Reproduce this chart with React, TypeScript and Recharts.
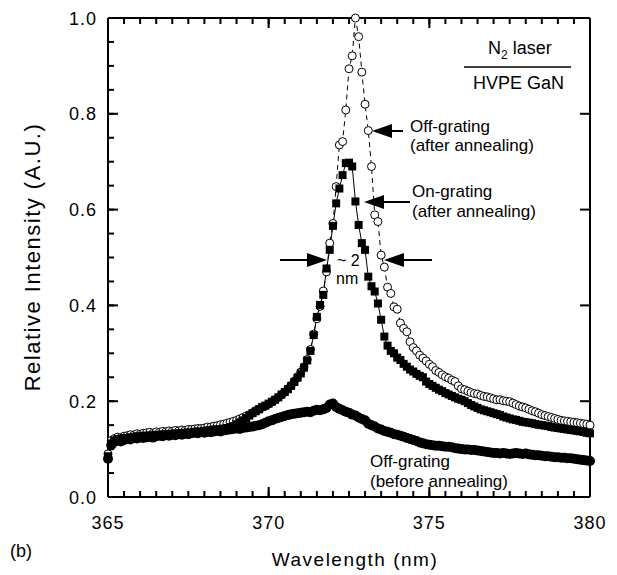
import { ComposedChart, Line, XAxis, YAxis, ReferenceLine } from 'recharts';

// wavelength grid (nm), 0.1 nm steps
const wavelength = [
  365.0, 365.1, 365.2, 365.3, 365.4, 365.5, 365.6, 365.7, 365.8, 365.9,
  366.0, 366.1, 366.2, 366.3, 366.4, 366.5, 366.6, 366.7, 366.8, 366.9,
  367.0, 367.1, 367.2, 367.3, 367.4, 367.5, 367.6, 367.7, 367.8, 367.9,
  368.0, 368.1, 368.2, 368.3, 368.4, 368.5, 368.6, 368.7, 368.8, 368.9,
  369.0, 369.1, 369.2, 369.3, 369.4, 369.5, 369.6, 369.7, 369.8, 369.9,
  370.0, 370.1, 370.2, 370.3, 370.4, 370.5, 370.6, 370.7, 370.8, 370.9,
  371.0, 371.1, 371.2, 371.3, 371.4, 371.5, 371.6, 371.7, 371.8, 371.9,
  372.0, 372.1, 372.2, 372.3, 372.4, 372.5, 372.6, 372.7, 372.8, 372.9,
  373.0, 373.1, 373.2, 373.3, 373.4, 373.5, 373.6, 373.7, 373.8, 373.9,
  374.0, 374.1, 374.2, 374.3, 374.4, 374.5, 374.6, 374.7, 374.8, 374.9,
  375.0, 375.1, 375.2, 375.3, 375.4, 375.5, 375.6, 375.7, 375.8, 375.9,
  376.0, 376.1, 376.2, 376.3, 376.4, 376.5, 376.6, 376.7, 376.8, 376.9,
  377.0, 377.1, 377.2, 377.3, 377.4, 377.5, 377.6, 377.7, 377.8, 377.9,
  378.0, 378.1, 378.2, 378.3, 378.4, 378.5, 378.6, 378.7, 378.8, 378.9,
  379.0, 379.1, 379.2, 379.3, 379.4, 379.5, 379.6, 379.7, 379.8, 379.9,
  380.0,
];

// Off-grating (before annealing) - filled circles
const offBefore = [
  0.080, 0.108, 0.115, 0.118, 0.116, 0.119, 0.121, 0.120, 0.123, 0.122,
  0.124, 0.123, 0.125, 0.126, 0.124, 0.127, 0.128, 0.127, 0.129, 0.128,
  0.130, 0.129, 0.131, 0.130, 0.132, 0.131, 0.133, 0.134, 0.133, 0.135,
  0.134, 0.136, 0.135, 0.137, 0.138, 0.137, 0.139, 0.140, 0.141, 0.142,
  0.143, 0.142, 0.144, 0.145, 0.146, 0.147, 0.149, 0.150, 0.152, 0.155,
  0.158, 0.160, 0.163, 0.165, 0.167, 0.169, 0.171, 0.173, 0.174, 0.175,
  0.176, 0.177, 0.178, 0.177, 0.180, 0.182, 0.181, 0.183, 0.186, 0.193,
  0.195, 0.188, 0.184, 0.181, 0.178, 0.176, 0.172, 0.170, 0.166, 0.163,
  0.160, 0.153, 0.150, 0.147, 0.143, 0.141, 0.138, 0.136, 0.134, 0.131,
  0.130, 0.128, 0.126, 0.123, 0.121, 0.119, 0.117, 0.114, 0.112, 0.110,
  0.109, 0.108, 0.107, 0.107, 0.106, 0.105, 0.105, 0.104, 0.102, 0.101,
  0.100, 0.099, 0.099, 0.098, 0.098, 0.097, 0.096, 0.095, 0.094, 0.093,
  0.092, 0.092, 0.091, 0.092, 0.091, 0.090, 0.091, 0.092, 0.091, 0.090,
  0.091, 0.089, 0.088, 0.087, 0.087, 0.086, 0.085, 0.085, 0.084, 0.083,
  0.083, 0.082, 0.082, 0.081, 0.081, 0.080, 0.079, 0.078, 0.077, 0.076,
  0.075,
];

// On-grating (after annealing) - filled squares
const onAfter = [
  0.085, 0.112, 0.118, 0.121, 0.119, 0.123, 0.122, 0.125, 0.124, 0.127,
  0.125, 0.128, 0.127, 0.129, 0.127, 0.130, 0.129, 0.131, 0.130, 0.132,
  0.131, 0.133, 0.132, 0.134, 0.133, 0.135, 0.134, 0.136, 0.137, 0.136,
  0.138, 0.139, 0.140, 0.141, 0.141, 0.142, 0.143, 0.144, 0.146, 0.148,
  0.152, 0.156, 0.160, 0.165, 0.170, 0.175, 0.179, 0.183, 0.188, 0.191,
  0.195, 0.199, 0.203, 0.208, 0.214, 0.219, 0.225, 0.232, 0.240, 0.249,
  0.258, 0.270, 0.285, 0.305, 0.338, 0.376, 0.401, 0.422, 0.477, 0.516,
  0.566, 0.613, 0.644, 0.672, 0.697, 0.698, 0.690, 0.617, 0.568, 0.530,
  0.516, 0.460, 0.440, 0.429, 0.404, 0.370, 0.335, 0.316, 0.305, 0.300,
  0.291, 0.286, 0.278, 0.272, 0.266, 0.262, 0.257, 0.253, 0.250, 0.241,
  0.236, 0.232, 0.228, 0.224, 0.221, 0.217, 0.214, 0.211, 0.208, 0.205,
  0.203, 0.200, 0.196, 0.192, 0.189, 0.186, 0.183, 0.181, 0.179, 0.177,
  0.175, 0.173, 0.171, 0.168, 0.166, 0.164, 0.162, 0.161, 0.159, 0.157,
  0.156, 0.155, 0.154, 0.152, 0.151, 0.150, 0.149, 0.148, 0.146, 0.145,
  0.144, 0.143, 0.142, 0.141, 0.140, 0.139, 0.138, 0.137, 0.136, 0.134,
  0.133,
];

// Off-grating (after annealing) - open circles
const offAfter = [
  0.090, 0.118, 0.122, 0.125, 0.124, 0.127, 0.128, 0.130, 0.129, 0.132,
  0.131, 0.133, 0.134, 0.135, 0.133, 0.136, 0.135, 0.137, 0.136, 0.138,
  0.137, 0.139, 0.138, 0.140, 0.139, 0.141, 0.141, 0.142, 0.143, 0.143,
  0.144, 0.146, 0.146, 0.148, 0.149, 0.151, 0.152, 0.154, 0.156, 0.158,
  0.160, 0.163, 0.166, 0.169, 0.172, 0.176, 0.180, 0.184, 0.187, 0.190,
  0.194, 0.198, 0.203, 0.208, 0.213, 0.219, 0.226, 0.233, 0.242, 0.251,
  0.261, 0.272, 0.287, 0.308, 0.340, 0.372, 0.398, 0.430, 0.470, 0.530,
  0.571, 0.648, 0.735, 0.742, 0.808, 0.894, 0.921, 1.000, 0.961, 0.887,
  0.820, 0.765, 0.690, 0.589, 0.575, 0.505, 0.480, 0.438, 0.425, 0.397,
  0.392, 0.363, 0.352, 0.345, 0.324, 0.312, 0.305, 0.296, 0.290, 0.284,
  0.277, 0.272, 0.264, 0.260, 0.255, 0.251, 0.248, 0.244, 0.241, 0.232,
  0.226, 0.224, 0.221, 0.218, 0.216, 0.215, 0.212, 0.210, 0.209, 0.207,
  0.205, 0.203, 0.203, 0.201, 0.200, 0.199, 0.196, 0.193, 0.190, 0.188,
  0.186, 0.183, 0.180, 0.178, 0.175, 0.172, 0.170, 0.168, 0.166, 0.164,
  0.162, 0.160, 0.159, 0.158, 0.157, 0.156, 0.155, 0.154, 0.153, 0.152,
  0.150,
];

const xTicks = [
  365, 365.5, 366, 366.5, 367, 367.5, 368, 368.5, 369, 369.5,
  370, 370.5, 371, 371.5, 372, 372.5, 373, 373.5, 374, 374.5,
  375, 375.5, 376, 376.5, 377, 377.5, 378, 378.5, 379, 379.5, 380,
];
const xMajor = [365, 370, 375, 380];
const yTicks = [
  0, 0.05, 0.1, 0.15, 0.2, 0.25, 0.3, 0.35, 0.4, 0.45, 0.5,
  0.55, 0.6, 0.65, 0.7, 0.75, 0.8, 0.85, 0.9, 0.95, 1.0,
];
const yMajor = [0, 0.2, 0.4, 0.6, 0.8, 1.0];

const data = wavelength.map((wl, i) => ({
  wl,
  before: offBefore[i],
  on: onAfter[i],
  off: offAfter[i],
}));

const FONT = '"Liberation Sans", Arial, Helvetica, sans-serif';
const isMajor = (list: number[], v: number) => list.some(m => Math.abs(m - v) < 1e-6);

// minor ticks come from the axes (negative tickSize = drawn inward);
// majors are lengthened with short reference segments (data units)
const MINOR = -6;
const X_MAJOR_LEN = 0.021; // y units, ~10 px
const Y_MAJOR_LEN = 0.31;  // nm, ~10 px

// tick label props arrive at the inner end of the tick line
const BottomTick = ({ x, y, payload }: any) => {
  if (!isMajor(xMajor, payload.value)) return <g />;
  return (
    <text x={x} y={y + 38} textAnchor="middle" fontSize={18} fontFamily={FONT} letterSpacing={1} fill="#000">
      {payload.value}
    </text>
  );
};

const LeftTick = ({ x, y, payload }: any) => {
  if (!isMajor(yMajor, payload.value)) return <g />;
  return (
    <text x={x - 17} y={y + 6.5} textAnchor="end" fontSize={18} fontFamily={FONT} letterSpacing={1} fill="#000">
      {payload.value.toFixed(1)}
    </text>
  );
};

const NoLabel = () => <g />;

const Arrow = ({ tail, tip, y }: { tail: number; tip: number; y: number }) => {
  const dir = tip > tail ? 1 : -1;
  const base = tip - dir * 20;
  return (
    <g>
      <line x1={tail} x2={base} y1={y} y2={y} stroke="#000" strokeWidth={2} />
      <polygon points={`${tip},${y} ${base},${y - 7} ${base},${y + 7}`} fill="#000" />
    </g>
  );
};

const axisStyle = {
  tickSize: MINOR,
  tickMargin: 0,
  tickLine: { stroke: '#000', strokeWidth: 2 },
  axisLine: { stroke: '#000', strokeWidth: 2 },
  interval: 0 as const,
};

export default function App() {
  const txt = { fontFamily: FONT, fontSize: 17, fill: '#000' };
  return (
    <div style={{ position: 'absolute', left: 0, top: 0, width: 617, height: 575, background: '#fff' }}>
      <ComposedChart width={617} height={575} data={data} margin={{ top: 17, right: 26, bottom: 38, left: 48 }}>
        <XAxis dataKey="wl" type="number" domain={[365, 380]} ticks={xTicks} height={40}
          tick={<BottomTick />} {...axisStyle} />
        <XAxis xAxisId="top" orientation="top" dataKey="wl" type="number" domain={[365, 380]} ticks={xTicks}
          height={1} tick={<NoLabel />} {...axisStyle} />
        <YAxis type="number" domain={[0, 1]} ticks={yTicks} width={60}
          tick={<LeftTick />} {...axisStyle} />
        <YAxis yAxisId="right" orientation="right" type="number" domain={[0, 1]} ticks={yTicks} width={1}
          tick={<NoLabel />} {...axisStyle} />

        {xMajor.map(v => (
          <ReferenceLine key={`xb${v}`} segment={[{ x: v, y: 0 }, { x: v, y: X_MAJOR_LEN }]} stroke="#000" strokeWidth={2} />
        ))}
        {xMajor.map(v => (
          <ReferenceLine key={`xt${v}`} segment={[{ x: v, y: 1 }, { x: v, y: 1 - X_MAJOR_LEN }]} stroke="#000" strokeWidth={2} />
        ))}
        {yMajor.map(v => (
          <ReferenceLine key={`yl${v}`} segment={[{ x: 365, y: v }, { x: 365 + Y_MAJOR_LEN, y: v }]} stroke="#000" strokeWidth={2} />
        ))}
        {yMajor.map(v => (
          <ReferenceLine key={`yr${v}`} segment={[{ x: 380, y: v }, { x: 380 - Y_MAJOR_LEN, y: v }]} stroke="#000" strokeWidth={2} />
        ))}

        <Line dataKey="before" type="linear" stroke="#000" strokeWidth={1} isAnimationActive={false}
          dot={(p: any) => <circle key={`b${p.index}`} cx={p.cx} cy={p.cy} r={5} fill="#000" />} />
        <Line dataKey="off" type="linear" stroke="#000" strokeWidth={1} strokeDasharray="5 4" isAnimationActive={false}
          dot={(p: any) => <circle key={`o${p.index}`} cx={p.cx} cy={p.cy} r={4} fill="#fff" stroke="#000" strokeWidth={1} />} />
        <Line dataKey="on" type="linear" stroke="#000" strokeWidth={1} isAnimationActive={false}
          dot={(p: any) => <rect key={`s${p.index}`} x={p.cx - 4} y={p.cy - 4} width={8} height={8} fill="#000" />} />
      </ComposedChart>

      <svg width={617} height={575} style={{ position: 'absolute', left: 0, top: 0, pointerEvents: 'none' }}>
        <text x={488} y={54} {...txt} fontSize={18}>
          N<tspan fontSize={12} dy={5}>2</tspan><tspan dy={-5}> laser</tspan>
        </text>
        <line x1={464} x2={571} y1={67} y2={67} stroke="#000" strokeWidth={1.5} />
        <text x={473} y={89} {...txt} fontSize={18}>HVPE GaN</text>

        <text x={410} y={132} {...txt}>Off-grating</text>
        <text x={410} y={151} {...txt}>(after annealing)</text>
        <Arrow tail={403} tip={372} y={131} />

        <text x={412} y={197} {...txt}>On-grating</text>
        <text x={412} y={217} {...txt}>(after annealing)</text>
        <Arrow tail={410} tip={364} y={202} />

        <Arrow tail={280} tip={327} y={260} />
        <Arrow tail={432} tip={384} y={260} />
        <text x={337} y={266} {...txt} fontSize={16}>~ 2</text>
        <text x={336} y={284} {...txt} fontSize={16}>nm</text>

        <text x={370} y={467} {...txt}>Off-grating</text>
        <text x={370} y={487} {...txt}>(before annealing)</text>

        <text x={10} y={557} {...txt} fontSize={18}>(b)</text>
        <text x={355} y={566} {...txt} fontSize={19} letterSpacing={1.5} textAnchor="middle">Wavelength (nm)</text>
        <text x={0} y={0} {...txt} fontSize={22} letterSpacing={1.5} textAnchor="middle"
          transform="translate(40 257) rotate(-90)">Relative Intensity (A.U.)</text>
      </svg>
    </div>
  );
}
